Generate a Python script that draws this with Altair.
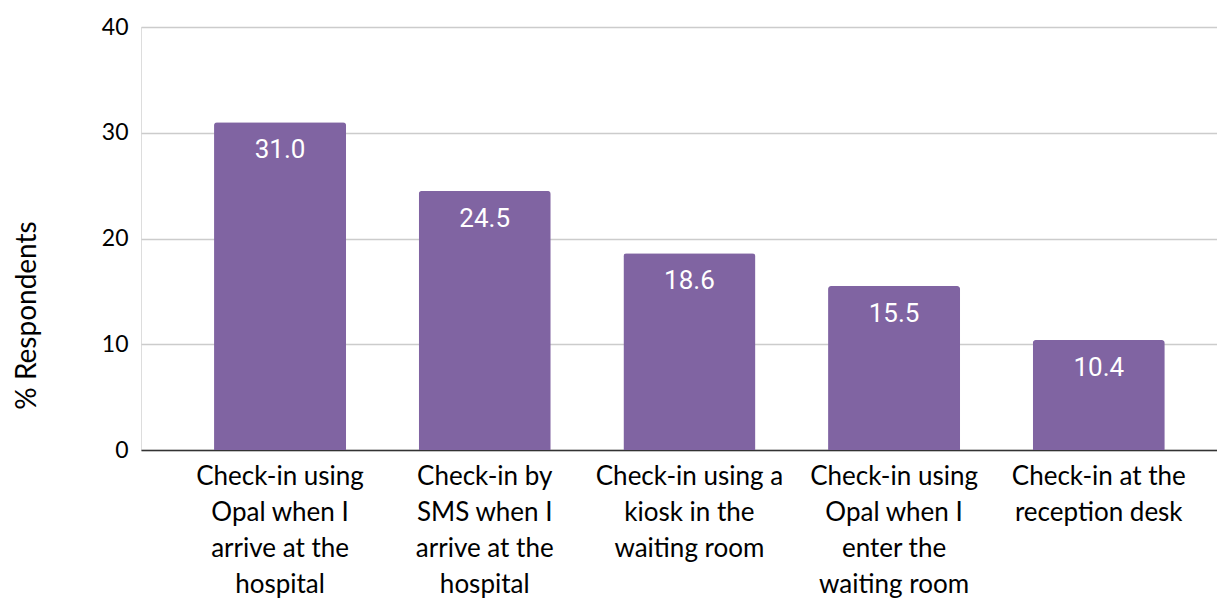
import altair as alt
import pandas as pd

categories = [
    "Check-in using|Opal when I|arrive at the|hospital",
    "Check-in by|SMS when I|arrive at the|hospital",
    "Check-in using a|kiosk in the|waiting room",
    "Check-in using|Opal when I|enter the|waiting room",
    "Check-in at the|reception desk",
]
values = [31.0, 24.5, 18.6, 15.5, 10.4]

df = pd.DataFrame({"cat": categories, "val": values})

x = alt.X(
    "cat:N",
    sort=categories,
    scale=alt.Scale(paddingInner=0.355, paddingOuter=0.306, align=0.583),
    axis=alt.Axis(
        title=None,
        labelExpr="split(datum.label, '|')",
        labelAngle=0,
        labelFont="Lato",
        labelFontSize=26,
        labelColor="#000000",
        labelLineHeight=36,
        labelPadding=13,
        labelBaseline="top",
        ticks=False,
        domainColor="#333333",
        domainWidth=1.5,
        labelLimit=300,
    ),
)

y = alt.Y(
    "val:Q",
    scale=alt.Scale(domain=[0, 40]),
    axis=alt.Axis(
        values=[0, 10, 20, 30, 40],
        title="% Respondents",
        titleFont="Lato",
        titleFontSize=28,
        titleFontWeight="normal",
        titleColor="#000000",
        titleAngle=270,
        titleX=-114,
        titleY=288,
        titleAlign="center",
        titleBaseline="middle",
        labelFont="Lato",
        labelFontSize=23,
        labelColor="#000000",
        labelPadding=13,
        ticks=False,
        domain=False,
        gridColor="#cccccc",
        gridWidth=1.5,
    ),
)

bars = alt.Chart(df).mark_bar(
    color="#8064a2", cornerRadiusTopLeft=3, cornerRadiusTopRight=3
).encode(x=x, y=y)

labels = alt.Chart(df).mark_text(
    color="white", font="Roboto", fontSize=26, baseline="middle", dy=28
).encode(
    x=alt.X("cat:N", sort=categories),
    y=alt.Y("val:Q"),
    text=alt.Text("val:Q", format=".1f"),
)

chart = (
    alt.layer(bars, labels)
    .properties(
        width=1076,
        height=423,
        autosize=alt.AutoSizeParams(type="none"),
        padding={"left": 133, "top": 19, "right": 0, "bottom": 154},
    )
    .configure_view(stroke=None)
    .configure(background="white")
)

chart.save("out.html", embed_options={"renderer": "svg", "actions": False})
